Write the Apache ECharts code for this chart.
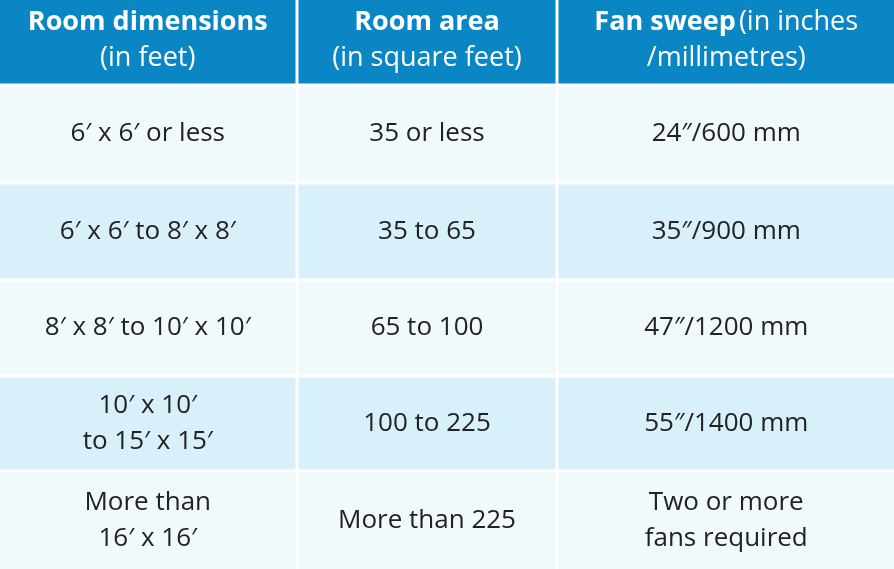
<!DOCTYPE html><html><head><meta charset="utf-8">
<script src="https://cdn.jsdelivr.net/npm/echarts@6/dist/echarts.min.js"></script>
<style>html,body{margin:0;padding:0;background:#fff}#c{width:894px;height:569px}</style></head><body><div id="c"></div>
<script>
const headers = [
  ['{b|Room dimensions}', '{n|(in feet)}'],
  ['{b|Room area}', '{n|(in square feet)}'],
  ['{b|Fan sweep} {n|(in inches}', '{n|/millimetres)}']
];
const roomDimensions = ['6′ x 6′ or less', '6′ x 6′ to 8′ x 8′', '8′ x 8′ to 10′ x 10′', '10′ x 10′\nto 15′ x 15′', 'More than\n16′ x 16′'];
const roomArea = ['35 or less', '35 to 65', '65 to 100', '100 to 225', 'More than 225'];
const fanSweep = ['24″/600 mm', '35″/900 mm', '47″/1200 mm', '55″/1400 mm', 'Two or more\nfans required'];

const colEdges = [0, 297, 557, 894];
const rowEdges = [0, 85, 183, 280, 376, 471, 569];

const data = [];
for (let c = 0; c < 3; c++) data.push([c, 0, headers[c].join('\n')]);
const cols = [roomDimensions, roomArea, fanSweep];
for (let r = 0; r < 5; r++) for (let c = 0; c < 3; c++) data.push([c, r + 1, cols[c][r]]);

const chart = echarts.init(document.getElementById('c'));
chart.setOption({
  animation: false,
  grid: {left: 0, right: 0, top: 0, bottom: 0},
  xAxis: {type: 'value', min: 0, max: 894, show: false},
  yAxis: {type: 'value', min: 0, max: 569, inverse: true, show: false},
  series: [{
    type: 'custom',
    data: data,
    renderItem: function (params, api) {
      const c = api.value(0), r = api.value(1);
      const text = data[params.dataIndex][2];
      const p0 = api.coord([colEdges[c], rowEdges[r]]);
      const p1 = api.coord([colEdges[c + 1], rowEdges[r + 1]]);
      const g = 1.5;
      const x0 = p0[0] + (c > 0 ? g : 0), x1 = p1[0] - (c < 2 ? g : 0);
      const y0 = p0[1] + (r > 0 ? g : 0), y1 = p1[1] - (r < 5 ? g : 0);
      const fill = r === 0 ? '#0b86c4' : (r % 2 === 1 ? '#f0fafd' : '#d8f0fa');
      const isH = r === 0;
      return {
        type: 'group',
        children: [
          {type: 'rect', shape: {x: x0, y: y0, width: x1 - x0, height: y1 - y0}, style: {fill: fill}},
          {type: 'text', x: (x0 + x1) / 2, y: (y0 + y1) / 2 + (isH ? -1 : 0),
           style: isH ? {
             text: text, align: 'center', verticalAlign: 'middle',
             fontFamily: '"Open Sans", "Noto Sans", sans-serif', fill: '#fff', lineHeight: 36,
             rich: {b: {fontSize: 27, fontWeight: 'bold', fill: '#fff', lineHeight: 36, fontFamily: '"Open Sans", sans-serif'},
                    n: {fontSize: 27, fill: '#fff', lineHeight: 36, fontFamily: '"Open Sans", sans-serif'}}
           } : {
             text: text, align: 'center', verticalAlign: 'middle', fill: '#222',
             fontSize: 26, lineHeight: 36, fontFamily: '"Open Sans", "Noto Sans", sans-serif'
           }}
        ]
      };
    }
  }]
});
</script></body></html>
